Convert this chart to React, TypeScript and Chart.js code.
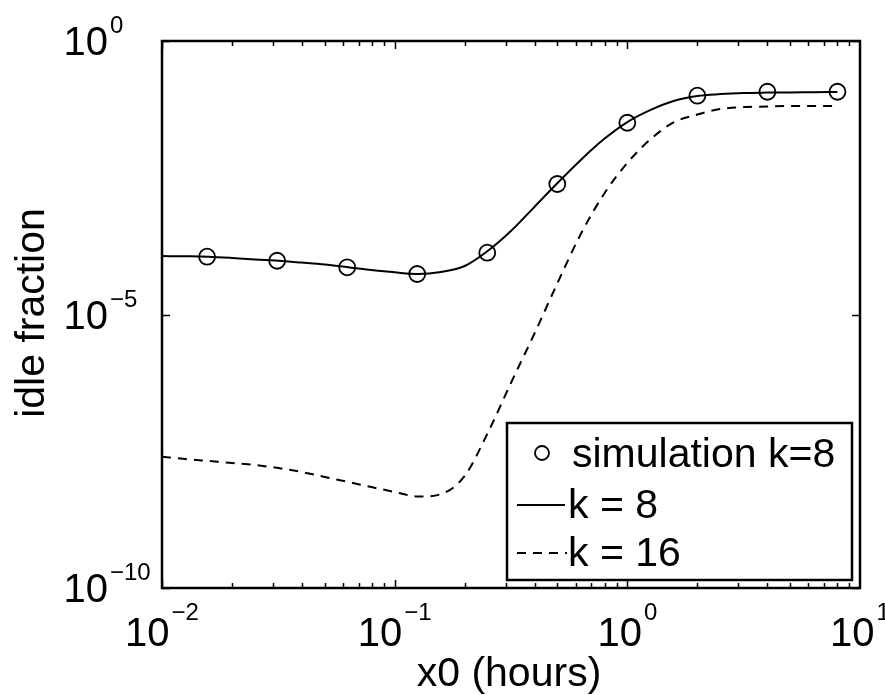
import React, { useEffect, useRef } from "react";
import { Chart, registerables } from "chart.js";

Chart.register(...registerables);

// x grid for the model curves (hours)
const curveX = [
  0.01, 0.0126, 0.0158, 0.02, 0.0251, 0.0316, 0.0398, 0.0501, 0.0631, 0.0794,
  0.1, 0.126, 0.158, 0.2, 0.251, 0.316, 0.398, 0.501, 0.631, 0.794,
  1, 1.26, 1.58, 2, 2.51, 3.16, 3.98, 5.01, 6.31, 8,
];
// k = 8 model
const k8Y = [
  1.17e-4, 1.16e-4, 1.14e-4, 1.08e-4, 1.01e-4, 9.6e-5, 8.9e-5, 8.2e-5, 7.3e-5, 6.5e-5,
  5.9e-5, 5.5e-5, 6.0e-5, 7.7e-5, 1.45e-4, 3.36e-4, 9.2e-4, 2.54e-3, 6.7e-3, 1.61e-2,
  3.3e-2, 5.5e-2, 8.0e-2, 9.9e-2, 0.107, 0.112, 0.114, 0.115, 0.116, 0.117,
];
// k = 16 model
const k16Y = [
  2.51e-8, 2.28e-8, 2.1e-8, 1.93e-8, 1.77e-8, 1.56e-8, 1.32e-8, 1.07e-8, 8.7e-9, 7.0e-9,
  5.7e-9, 4.7e-9, 5.2e-9, 1.12e-8, 6.8e-8, 5.6e-7, 4.4e-6, 3.77e-5, 2.96e-4, 1.6e-3,
  5.9e-3, 1.61e-2, 3.24e-2, 4.53e-2, 5.71e-2, 6.2e-2, 6.35e-2, 6.5e-2, 6.5e-2, 6.5e-2,
];
// simulation k = 8
const simX = [0.015625, 0.03125, 0.0625, 0.125, 0.25, 0.5, 1, 2, 4, 8];
const simY = [1.14e-4, 9.6e-5, 7.3e-5, 5.5e-5, 1.35e-4, 2.43e-3, 3.2e-2, 0.1, 0.118, 0.118];

const xMajor = [0.01, 0.1, 1, 10];
const xMajorExp = ["\u22122", "\u22121", "0", "1"];
const yMajor = [1, 1e-5, 1e-10];
const yMajorExp = ["0", "\u22125", "\u221210"];

const xTitle = "x0 (hours)";
const yTitle = "idle fraction";
const legendLabels = ["simulation k=8", "k = 8", "k = 16"];

const FONT = '"Liberation Sans", Arial, Helvetica, sans-serif';

const axesPlugin = {
  id: "matlabAxes",
  afterDraw(chart: any) {
    const ctx: CanvasRenderingContext2D = chart.ctx;
    const xs = chart.scales.x;
    const ys = chart.scales.y;
    const { left, right, top, bottom } = chart.chartArea;
    ctx.save();
    ctx.strokeStyle = "#000";
    ctx.fillStyle = "#000";

    // ticks
    ctx.lineWidth = 1.5;
    ctx.beginPath();
    for (let e = -2; e <= 0; e++) {
      for (let m = 1; m <= 9; m++) {
        const v = m * Math.pow(10, e);
        const px = Math.round(xs.getPixelForValue(v)) + 0.5;
        const len = m === 1 ? 8 : 5;
        ctx.moveTo(px, bottom);
        ctx.lineTo(px, bottom - len);
        ctx.moveTo(px, top);
        ctx.lineTo(px, top + len);
      }
    }
    yMajor.forEach((v) => {
      const py = Math.round(ys.getPixelForValue(v)) + 0.5;
      ctx.moveTo(left, py);
      ctx.lineTo(left + 8, py);
      ctx.moveTo(right, py);
      ctx.lineTo(right - 8, py);
    });
    ctx.stroke();

    // box
    ctx.lineWidth = 2.5;
    ctx.strokeRect(left, top, right - left, bottom - top);

    // x tick labels
    ctx.textBaseline = "alphabetic";
    xMajor.forEach((v, i) => {
      const px = xs.getPixelForValue(v);
      ctx.font = "40px " + FONT;
      const wb = ctx.measureText("10").width;
      ctx.font = "24px " + FONT;
      const we = ctx.measureText(xMajorExp[i]).width;
      const total = wb + 2 + we;
      const x0 = px - total / 2;
      ctx.textAlign = "left";
      ctx.font = "40px " + FONT;
      ctx.fillText("10", x0, 646);
      ctx.font = "24px " + FONT;
      ctx.fillText(xMajorExp[i], x0 + wb + 2, 620);
    });

    // y tick labels
    yMajor.forEach((v, i) => {
      const py = ys.getPixelForValue(v);
      ctx.font = "40px " + FONT;
      ctx.textAlign = "right";
      ctx.fillText("10", 108, py + 14);
      ctx.font = "24px " + FONT;
      ctx.textAlign = "left";
      ctx.fillText(yMajorExp[i], 110, py - 8);
    });

    // axis titles
    ctx.font = "41px " + FONT;
    ctx.textAlign = "center";
    ctx.fillText(xTitle, 509, 686);
    ctx.save();
    ctx.translate(44, 313);
    ctx.rotate(-Math.PI / 2);
    ctx.fillText(yTitle, 0, 0);
    ctx.restore();

    // legend
    const lx = 507, ly = 423, lw = 345, lh = 157;
    ctx.fillStyle = "#fff";
    ctx.fillRect(lx, ly, lw, lh);
    ctx.fillStyle = "#000";
    ctx.lineWidth = 2.5;
    ctx.strokeRect(lx, ly, lw, lh);

    ctx.font = "41px " + FONT;
    ctx.textAlign = "left";
    // entry 1: circle
    ctx.lineWidth = 1.8;
    ctx.beginPath();
    ctx.arc(542, 453, 7, 0, Math.PI * 2);
    ctx.stroke();
    ctx.fillText(legendLabels[0], 572, 467);
    // entry 2: solid
    ctx.lineWidth = 2;
    ctx.beginPath();
    ctx.moveTo(517, 505);
    ctx.lineTo(565, 505);
    ctx.stroke();
    ctx.fillText(legendLabels[1], 568, 518);
    // entry 3: dashed
    ctx.setLineDash([9, 7]);
    ctx.beginPath();
    ctx.moveTo(517, 553);
    ctx.lineTo(567, 553);
    ctx.stroke();
    ctx.setLineDash([]);
    ctx.fillText(legendLabels[2], 568, 566);

    ctx.restore();
  },
};

export default function App() {
  const ref = useRef<HTMLCanvasElement | null>(null);
  useEffect(() => {
    if (!ref.current) return;
    const chart = new Chart(ref.current, {
      type: "scatter",
      data: {
        datasets: [
          {
            label: legendLabels[0],
            data: simX.map((x, i) => ({ x, y: simY[i] })),
            showLine: false,
            pointStyle: "circle",
            pointRadius: 8,
            pointBorderWidth: 1.8,
            pointBorderColor: "#000",
            pointBackgroundColor: "rgba(0,0,0,0)",
          },
          {
            label: legendLabels[1],
            data: curveX.map((x, i) => ({ x, y: k8Y[i] })),
            showLine: true,
            borderColor: "#000",
            borderWidth: 2,
            pointRadius: 0,
            cubicInterpolationMode: "monotone",
          },
          {
            label: legendLabels[2],
            data: curveX.map((x, i) => ({ x, y: k16Y[i] })),
            showLine: true,
            borderColor: "#000",
            borderWidth: 2,
            borderDash: [9, 7],
            pointRadius: 0,
            cubicInterpolationMode: "monotone",
          },
        ],
      } as any,
      options: {
        animation: false,
        responsive: false,
        devicePixelRatio: 1,
        layout: { padding: { left: 162, right: 25, top: 41, bottom: 107 } },
        plugins: { legend: { display: false }, tooltip: { enabled: false } },
        scales: {
          x: { type: "logarithmic", min: 0.01, max: 10, display: false },
          y: { type: "logarithmic", min: 1e-10, max: 1, display: false },
        },
      } as any,
      plugins: [axesPlugin],
    });
    return () => chart.destroy();
  }, []);
  return (
    <div style={{ position: "absolute", left: 0, top: 0, width: 885, height: 695, background: "#fff" }}>
      <canvas ref={ref} width={885} height={695} style={{ width: 885, height: 695 }} />
    </div>
  );
}
